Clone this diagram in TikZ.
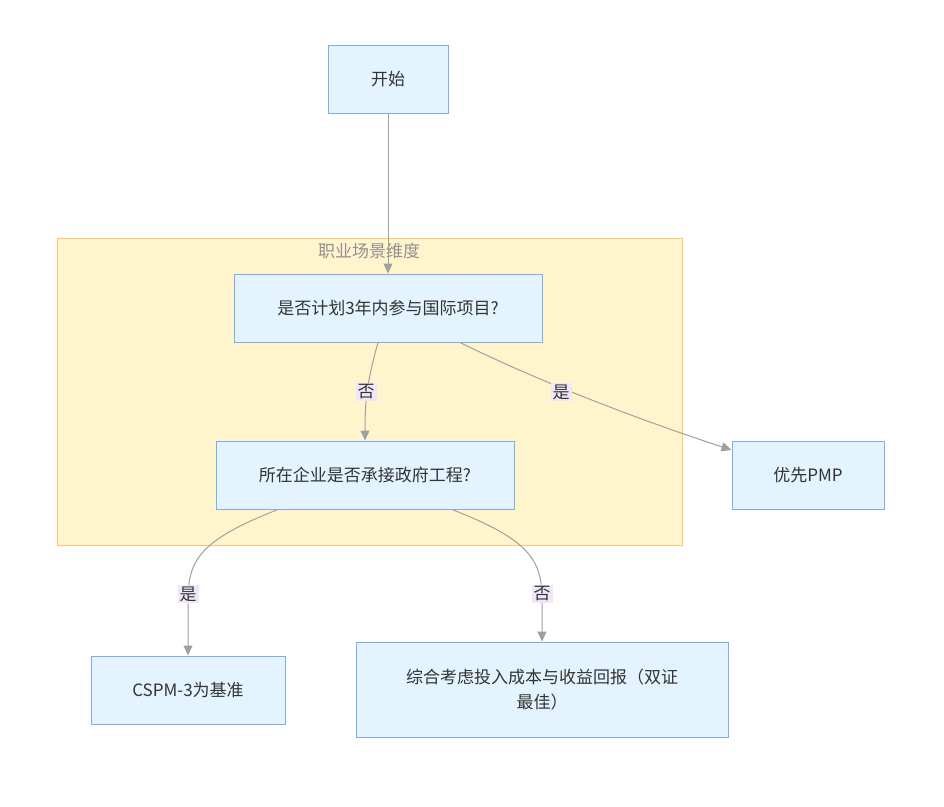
\documentclass[tikz,border=0pt]{standalone}
\usepackage{fontspec}
\setmainfont{Noto Sans CJK SC}
\usetikzlibrary{arrows.meta}
\definecolor{boxfill}{HTML}{E3F4FE}
\definecolor{boxdraw}{HTML}{7FAAF5}
\definecolor{clfill}{HTML}{FFF5CC}
\definecolor{cldraw}{HTML}{FFC766}
\definecolor{lblbg}{HTML}{EFE6F7}
\definecolor{edgec}{HTML}{A0A0A0}
\definecolor{txt}{HTML}{333333}
\tikzset{
  flowbox/.style={draw=boxdraw, fill=boxfill, line width=1pt, inner sep=0pt, text=txt, font=\fontsize{17}{25}\selectfont, align=center},
  edge/.style={draw=edgec, line width=1pt, -{Triangle[length=10pt,width=9pt,fill=edgec]}},
  elabel/.style={fill=lblbg, text=txt, font=\fontsize{17}{19}\selectfont, inner sep=2pt}
}
\begin{document}
\begin{tikzpicture}[x=1pt,y=-1pt]
\useasboundingbox (0,0) rectangle (944,806);
\fill[white] (0,0) rectangle (944,806);
% cluster
\node[draw=cldraw, fill=clfill, line width=1pt, minimum width=625pt, minimum height=307pt, inner sep=0pt] (cluster) at (369.5,391.5) {};
\node[text=edgec!90!black, font=\fontsize{17}{19}\selectfont] (cltitle) at (369,251) {职业场景维度};
% nodes
\node[flowbox, minimum width=120pt, minimum height=68pt] (start) at (388,79) {开始};
\node[flowbox, minimum width=308pt, minimum height=68pt] (q1) at (388,308) {是否计划3年内参与国际项目?};
\node[flowbox, minimum width=298pt, minimum height=68pt] (q2) at (365,475) {所在企业是否承接政府工程?};
\node[flowbox, minimum width=152pt, minimum height=68pt] (pmp) at (808,475) {优先PMP};
\node[flowbox, minimum width=194pt, minimum height=68pt] (cspm) at (188,690) {CSPM-3为基准};
\node[flowbox, minimum width=372pt, minimum height=95pt] (both) at (542,689.5) {综合考虑投入成本与收益回报（双证\\最佳）};
% edges
\draw[edge] (start.south) -- (q1.north);
\draw[edge] ([xshift=-10pt]q1.south) .. controls (367,382) and (365,400) .. (q2.north);
\draw[edge] ([xshift=72pt]q1.south) .. controls (540,382) and (640,420) .. ([yshift=25pt]pmp.west);
\draw[edge] ([xshift=-87pt]q2.south) .. controls (200,540) and (188,560) .. (188,600) -- (cspm.north);
\draw[edge] ([xshift=87pt]q2.south) .. controls (530,540) and (542,560) .. (542,600) -- (both.north);
% labels
\node[elabel] (l1) at (366,392) {否};
\node[elabel] (l2) at (561,392) {是};
\node[elabel] (l3) at (188,594) {是};
\node[elabel] (l4) at (542,594) {否};
\end{tikzpicture}
\end{document}
